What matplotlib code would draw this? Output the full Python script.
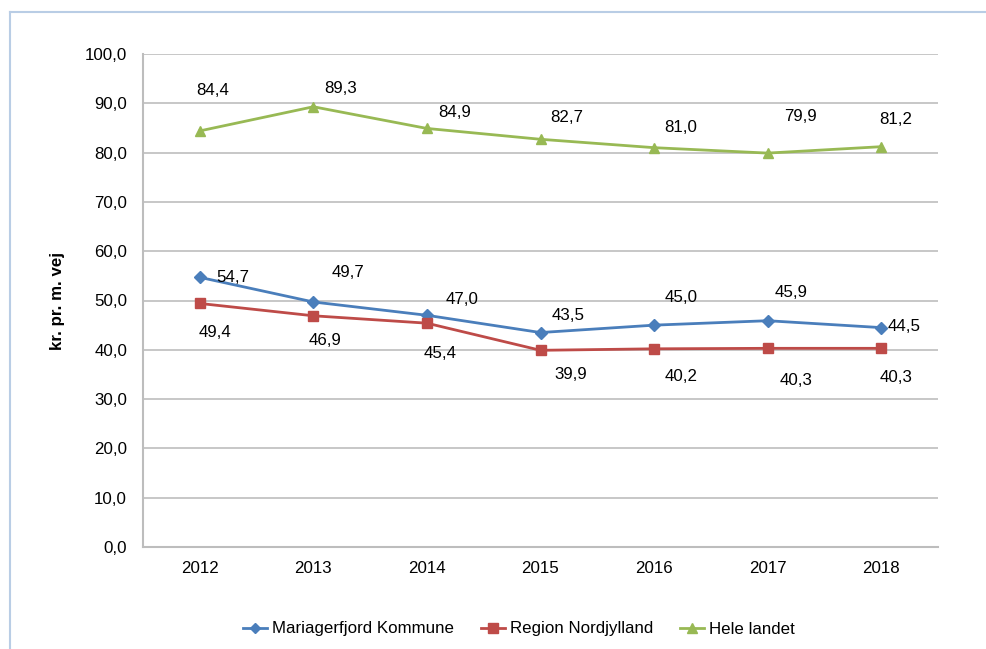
import matplotlib.pyplot as plt
from matplotlib.lines import Line2D
import numpy as np

plt.rcParams['font.family'] = ['Liberation Sans', 'DejaVu Sans']

years = ['2012', '2013', '2014', '2015', '2016', '2017', '2018']
mariagerfjord = [54.7, 49.7, 47.0, 43.5, 45.0, 45.9, 44.5]
nordjylland = [49.4, 46.9, 45.4, 39.9, 40.2, 40.3, 40.3]
hele_landet = [84.4, 89.3, 84.9, 82.7, 81.0, 79.9, 81.2]
series_names = ['Mariagerfjord Kommune', 'Region Nordjylland', 'Hele landet']

# label offsets in pixels (dx, dy) - hand placed like the excel original
off_blue = [(33, 0), (35, 29), (35, 16), (28, 17), (27, 28), (23, 28), (23, 1)]
off_red = [(15, -29), (12, -25), (13, -30), (30, -24), (27, -28), (28, -32), (15, -29)]
off_green = [(13, 40), (27, 18), (28, 16), (26, 22), (27, 20), (33, 37), (15, 27)]

blue = '#4A7EBB'
red = '#BE4B48'
green = '#98B954'
fs = 12.2

fig = plt.figure(figsize=(9.87, 6.49), dpi=100)
ax = fig.add_axes([143 / 987, 1 - 547 / 649, (938 - 143) / 987, (547 - 54) / 649])

x = np.arange(len(years))
ax.plot(x, mariagerfjord, color=blue, lw=2.0, marker='D', ms=6, zorder=3)
ax.plot(x, nordjylland, color=red, lw=2.0, marker='s', ms=7.5, zorder=3)
ax.plot(x, hele_landet, color=green, lw=2.0, marker='^', ms=7.5, zorder=3)

for vals, offs in [(mariagerfjord, off_blue), (nordjylland, off_red), (hele_landet, off_green)]:
    for i, v in enumerate(vals):
        ax.annotate(f'{v:.1f}'.replace('.', ','), (i, v), xytext=offs[i],
                    textcoords='offset pixels', ha='center', va='center', fontsize=fs)

ax.set_xlim(-0.5, 6.5)
ax.set_ylim(0, 100)
ax.set_yticks(np.arange(0, 101, 10))
ax.set_yticklabels([f'{t:.1f}'.replace('.', ',') for t in np.arange(0, 101, 10)], fontsize=fs)
ax.set_xticks(x)
ax.set_xticklabels(years, fontsize=fs)
ax.tick_params(axis='y', length=0, pad=11.5)
ax.tick_params(axis='x', length=0, pad=10)
ax.grid(axis='y', color='#BDBDBD', lw=1.2)
ax.set_axisbelow(True)
for s in ['top', 'right']:
    ax.spines[s].set_visible(False)
for s in ['left', 'bottom']:
    ax.spines[s].set_color('#BDBDBD')
    ax.spines[s].set_linewidth(1.5)
ax.set_ylabel('kr. pr. m. vej', fontsize=fs, fontweight='bold', labelpad=14)

handles = [Line2D([], [], color=blue, lw=2.0, marker='D', ms=5),
           Line2D([], [], color=red, lw=2.0, marker='s', ms=6.5),
           Line2D([], [], color=green, lw=2.0, marker='^', ms=6.5)]
fig.legend(handles, series_names, loc='center', bbox_to_anchor=(519 / 987, 1 - 629 / 649),
           ncol=3, frameon=False, fontsize=fs, handlelength=1.4, handletextpad=0.3,
           columnspacing=1.6)

# outer chart border
fig.add_artist(Line2D([10 / 987, 10 / 987], [0, 1 - 12 / 649], transform=fig.transFigure,
                      color='#B9CDE5', lw=1.5))
fig.add_artist(Line2D([10 / 987, 1], [1 - 12 / 649, 1 - 12 / 649], transform=fig.transFigure,
                      color='#B9CDE5', lw=1.5))

fig.savefig('out.png', dpi=100)
